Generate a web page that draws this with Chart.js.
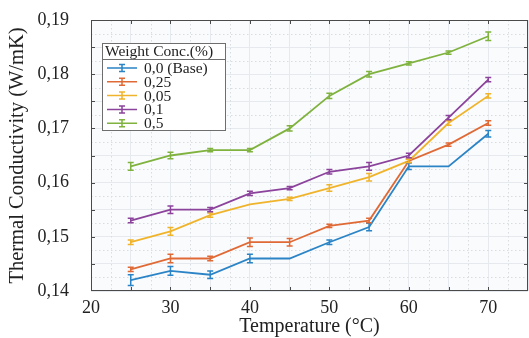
<!DOCTYPE html>
<html>
<head>
<meta charset="utf-8">
<script src="https://cdn.jsdelivr.net/npm/chart.js@4.4.1/dist/chart.umd.min.js"></script>
<style>
  html, body { margin: 0; padding: 0; background: #ffffff; }
  #wrap { width: 529px; height: 338px; position: relative; }
</style>
</head>
<body>
<div id="wrap"><canvas id="chart" width="529" height="338"></canvas></div>
<script>
// Data
const temperatures = [25, 30, 35, 40, 45, 50, 55, 60, 65, 70];
const seriesLabels = ['0,0 (Base)', '0,25', '0,05', '0,1', '0,5'];
const seriesColors = ['#2a84c6', '#df6a36', '#efb42c', '#8b439c', '#7fb23e'];

const conc00 = [0.142, 0.1437, 0.143, 0.146, 0.146, 0.149, 0.1518, 0.163, 0.163, 0.169];
const conc025 = [0.144, 0.146, 0.146, 0.149, 0.149, 0.152, 0.153, 0.164, 0.167, 0.171];
const conc005 = [0.149, 0.151, 0.154, 0.156, 0.157, 0.159, 0.161, 0.164, 0.171, 0.176];
const conc01 = [0.153, 0.155, 0.155, 0.158, 0.159, 0.162, 0.163, 0.165, 0.172, 0.179];
const conc05 = [0.163, 0.165, 0.166, 0.166, 0.170, 0.176, 0.180, 0.182, 0.184, 0.187];

// half-widths of the error bars
const err00 = [0.001, 0.0008, 0.0007, 0.0008, 0, 0.0004, 0.0007, 0.0006, 0, 0.0006];
const err025 = [0.0004, 0.0008, 0.0004, 0.0008, 0.0007, 0.0003, 0.0004, 0.0003, 0.0003, 0.0004];
const err005 = [0.0004, 0.0007, 0.0004, 0, 0.0003, 0.0006, 0.0007, 0.0003, 0.0004, 0.0004];
const err01 = [0.0004, 0.0007, 0.0004, 0.0004, 0.0003, 0.0004, 0.0007, 0.0004, 0.0004, 0.0004];
const err05 = [0.0007, 0.0006, 0.0003, 0.0003, 0.0005, 0.0005, 0.0005, 0.0003, 0.0003, 0.0008];

const xTicks = [20, 30, 40, 50, 60, 70];
const yTicks = [0.14, 0.15, 0.16, 0.17, 0.18, 0.19];
const legendTitle = 'Weight Conc.(%)';
const xTitle = 'Temperature (\u00B0C)';
const yTitle = 'Thermal Conductivity (W/mK)';

const seriesValues = [conc00, conc025, conc005, conc01, conc05];
const seriesErrors = [err00, err025, err005, err01, err05];

const FONT = "'Liberation Serif', 'DejaVu Serif', serif";

const datasets = seriesValues.map((vals, i) => ({
    label: seriesLabels[i],
    data: temperatures.map((t, j) => ({ x: t, y: vals[j] })),
    errors: seriesErrors[i],
    borderColor: seriesColors[i],
    backgroundColor: seriesColors[i],
    borderWidth: 1.8,
    pointRadius: 0,
    tension: 0
}));

// background, minor grid, inner ticks, frame, error bars and legend
const decorPlugin = {
    id: 'decor',
    beforeDraw(chart) {
        const { ctx, chartArea: a } = chart;
        ctx.save();
        ctx.fillStyle = '#fafbfc';
        ctx.fillRect(a.left, a.top, a.right - a.left, a.bottom - a.top);
        ctx.restore();
    },
    beforeDatasetsDraw(chart) {
        const { ctx, chartArea: a, scales } = chart;
        ctx.save();
        ctx.strokeStyle = '#d9dde2';
        ctx.lineWidth = 1;
        ctx.setLineDash([1.5, 2.5]);
        for (let v = 22.5; v < 75; v += 5) {
            const x = Math.round(scales.x.getPixelForValue(v)) + 0.5;
            ctx.beginPath(); ctx.moveTo(x, a.top); ctx.lineTo(x, a.bottom); ctx.stroke();
        }
        for (let k = 0; k < 10; k++) {
            const v = 0.1425 + k * 0.005;
            const y = Math.round(scales.y.getPixelForValue(v)) + 0.5;
            ctx.beginPath(); ctx.moveTo(a.left, y); ctx.lineTo(a.right, y); ctx.stroke();
        }
        ctx.setLineDash([]);
        // frame and inward ticks
        ctx.strokeStyle = '#4a4a4a';
        ctx.strokeRect(a.left + 0.5, a.top + 0.5, a.right - a.left - 1, a.bottom - a.top - 1);
        ctx.beginPath();
        for (let v = 25; v < 75; v += 5) {
            const x = Math.round(scales.x.getPixelForValue(v)) + 0.5;
            ctx.moveTo(x, a.bottom); ctx.lineTo(x, a.bottom - 4);
            ctx.moveTo(x, a.top); ctx.lineTo(x, a.top + 4);
        }
        for (let k = 1; k < 10; k++) {
            const y = Math.round(scales.y.getPixelForValue(0.14 + k * 0.005)) + 0.5;
            ctx.moveTo(a.left, y); ctx.lineTo(a.left + 4, y);
            ctx.moveTo(a.right, y); ctx.lineTo(a.right - 4, y);
        }
        ctx.stroke();
        ctx.restore();
    },
    afterDatasetsDraw(chart) {
        const { ctx, scales } = chart;
        ctx.save();
        ctx.lineWidth = 1.5;
        chart.data.datasets.forEach(ds => {
            ctx.strokeStyle = ds.borderColor;
            ds.data.forEach((p, j) => {
                const e = ds.errors[j];
                if (!e) return;
                const x = scales.x.getPixelForValue(p.x);
                const y1 = scales.y.getPixelForValue(p.y - e);
                const y2 = scales.y.getPixelForValue(p.y + e);
                ctx.beginPath();
                ctx.moveTo(x, y1); ctx.lineTo(x, y2);
                ctx.moveTo(x - 3, y1); ctx.lineTo(x + 3, y1);
                ctx.moveTo(x - 3, y2); ctx.lineTo(x + 3, y2);
                ctx.stroke();
            });
        });
        ctx.restore();
    },
    afterDraw(chart) {
        const { ctx } = chart;
        const bx = 102, by = 43, bw = 123, bh = 87;
        ctx.save();
        ctx.fillStyle = '#ffffff';
        ctx.fillRect(bx, by, bw, bh);
        ctx.strokeStyle = '#6e6e6e';
        ctx.lineWidth = 1;
        ctx.strokeRect(bx + 0.5, by + 0.5, bw, bh);
        ctx.beginPath(); ctx.moveTo(bx, by + 16.5); ctx.lineTo(bx + bw, by + 16.5); ctx.stroke();
        ctx.fillStyle = '#222';
        ctx.font = '15.5px ' + FONT;
        ctx.textBaseline = 'middle';
        ctx.fillText(legendTitle, bx + 3, by + 9);
        chart.data.datasets.forEach((ds, i) => {
            const y = by + 25 + i * 13.8;
            ctx.strokeStyle = ds.borderColor;
            ctx.lineWidth = 1.5;
            ctx.beginPath();
            ctx.moveTo(bx + 5, y); ctx.lineTo(bx + 35, y);
            ctx.moveTo(bx + 20, y - 3.5); ctx.lineTo(bx + 20, y + 3.5);
            ctx.moveTo(bx + 17, y - 3.5); ctx.lineTo(bx + 23, y - 3.5);
            ctx.moveTo(bx + 17, y + 3.5); ctx.lineTo(bx + 23, y + 3.5);
            ctx.stroke();
            ctx.fillStyle = '#222';
            ctx.fillText(ds.label, bx + 42, y + 1);
        });
        ctx.restore();
    }
};

new Chart(document.getElementById('chart').getContext('2d'), {
    type: 'line',
    data: { datasets },
    options: {
        responsive: false,
        animation: false,
        layout: { padding: { top: 20, right: 1, left: 0, bottom: 0 } },
        plugins: { legend: { display: false }, tooltip: { enabled: false } },
        scales: {
            x: {
                type: 'linear',
                min: 20,
                max: 75,
                afterBuildTicks: scale => {
                    const t = [];
                    for (let v = 20; v <= 75; v += 5) t.push({ value: v });
                    scale.ticks = t;
                },
                afterFit: scale => {
                    scale.height = 47;
                    scale.paddingLeft = 0;
                    scale.paddingRight = 0;
                },
                ticks: {
                    autoSkip: false,
                    maxRotation: 0,
                    padding: 6,
                    color: '#222',
                    font: { family: FONT, size: 18 },
                    callback: v => (xTicks.includes(v) ? String(v) : '')
                },
                grid: { color: '#e6e9ed', drawTicks: false },
                border: { display: false },
                title: {
                    display: true,
                    text: xTitle,
                    color: '#222',
                    font: { family: FONT, size: 20 },
                    padding: { top: 0, bottom: -1 }
                }
            },
            y: {
                min: 0.14,
                max: 0.19,
                afterBuildTicks: scale => {
                    const t = [];
                    for (let k = 0; k <= 10; k++) t.push({ value: 0.14 + k * 0.005 });
                    scale.ticks = t;
                },
                afterFit: scale => {
                    scale.width = 91;
                    scale.paddingTop = 0;
                    scale.paddingBottom = 0;
                },
                ticks: {
                    autoSkip: false,
                    padding: 22,
                    color: '#222',
                    font: { family: FONT, size: 18 },
                    callback: v => {
                        const hit = yTicks.find(t => Math.abs(t - v) < 1e-6);
                        return hit !== undefined ? hit.toFixed(2).replace('.', ',') : '';
                    }
                },
                grid: { color: '#e6e9ed', drawTicks: false },
                border: { display: false },
                title: {
                    display: true,
                    text: yTitle,
                    color: '#222',
                    font: { family: FONT, size: 20.5 },
                    padding: { top: 5, bottom: 0 }
                }
            }
        }
    },
    plugins: [decorPlugin]
});
</script>
</body>
</html>
